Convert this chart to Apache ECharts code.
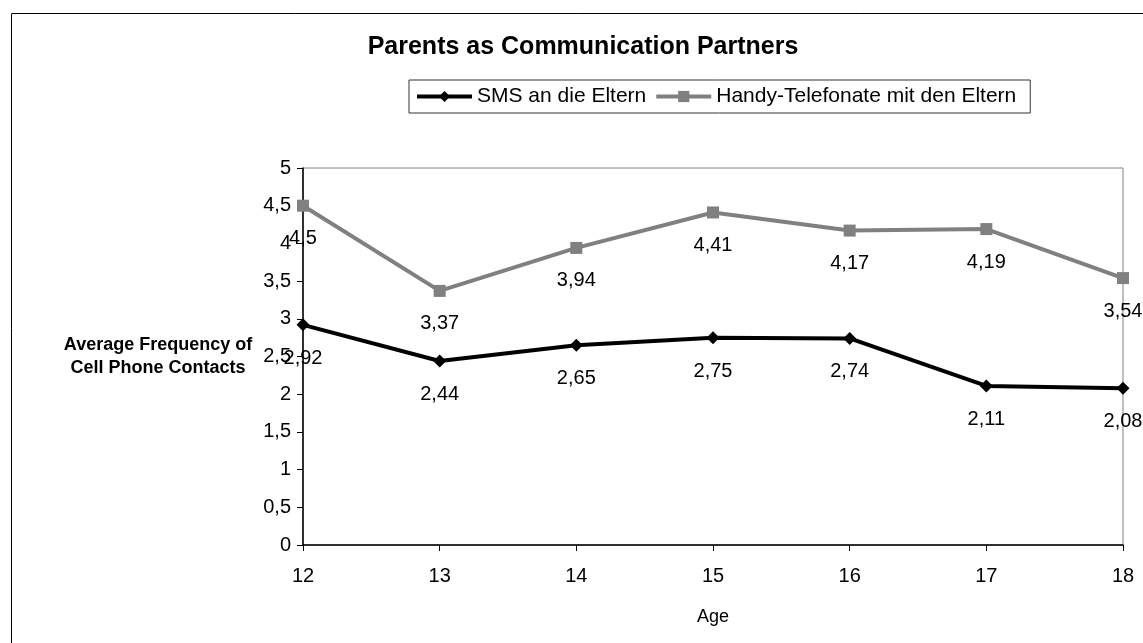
<!DOCTYPE html>
<html>
<head>
<meta charset="utf-8">
<script src="https://cdn.jsdelivr.net/npm/echarts@6/dist/echarts.min.js"></script>
<style>
html,body{margin:0;padding:0;background:#fff;}
#chart{width:1143px;height:643px;}
</style>
</head>
<body>
<div id="chart"></div>
<script>
var ages = ['12','13','14','15','16','17','18'];
var smsValues = [2.92, 2.44, 2.65, 2.75, 2.74, 2.11, 2.08];
var callValues = [4.5, 3.37, 3.94, 4.41, 4.17, 4.19, 3.54];
var seriesNames = ['SMS an die Eltern', 'Handy-Telefonate mit den Eltern'];
var chartTitle = 'Parents as Communication Partners';
var yAxisTitle = 'Average Frequency of\nCell Phone Contacts';
var xAxisTitle = 'Age';

var FONT = '"Liberation Sans", Arial, sans-serif';
function comma(v){ return String(v).replace('.', ','); }

var chart = echarts.init(document.getElementById('chart'), null, {renderer:'canvas'});
chart.setOption({
  backgroundColor:'#ffffff',
  animation:false,
  textStyle:{fontFamily:FONT, color:'#000'},
  graphic:[{
    type:'rect', silent:true, z:-1,
    shape:{x:11.5, y:13.5, width:1200, height:700},
    style:{fill:'none', stroke:'#000', lineWidth:1}
  }],
  title:[{
    text:chartTitle, left:583, top:35, textAlign:'center', padding:0,
    textStyle:{fontFamily:FONT, fontSize:25, fontWeight:'bold', color:'#000'}
  },{
    text:yAxisTitle, left:158, top:334, textAlign:'center', padding:0,
    textStyle:{fontFamily:FONT, fontSize:18, fontWeight:'bold', color:'#000', lineHeight:23}
  }],
  legend:{
    data:seriesNames, left:409, top:80, orient:'horizontal',
    padding:[6,14,6,6], itemGap:8, itemWidth:55, itemHeight:14,
    borderColor:'#333', borderWidth:1,
    lineStyle:{width:4},
    textStyle:{fontFamily:FONT, fontSize:21, color:'#000'}
  },
  grid:{left:303, right:20, top:168, bottom:98, show:true, borderColor:'#808080', borderWidth:1},
  xAxis:{
    type:'category', data:ages, boundaryGap:false,
    name:xAxisTitle, nameLocation:'middle', nameGap:63,
    nameTextStyle:{fontFamily:FONT, fontSize:18, color:'#000'},
    axisLine:{lineStyle:{color:'#000', width:1.5}},
    axisTick:{show:true, inside:false, length:6, lineStyle:{color:'#000'}},
    axisLabel:{fontFamily:FONT, fontSize:20, color:'#000', margin:21},
    splitLine:{show:false}
  },
  yAxis:{
    type:'value', min:0, max:5, interval:0.5,
    axisLine:{show:true, lineStyle:{color:'#000', width:1.5}},
    axisTick:{show:true, inside:false, length:6, lineStyle:{color:'#000'}},
    axisLabel:{fontFamily:FONT, fontSize:20, color:'#000', margin:12, formatter:function(v){return comma(v);}},
    splitLine:{show:false}
  },
  series:[{
    name:seriesNames[0], type:'line', data:smsValues,
    symbol:'diamond', symbolSize:13,
    lineStyle:{color:'#000', width:4},
    itemStyle:{color:'#000'},
    label:{show:true, position:'bottom', distance:17, fontFamily:FONT, fontSize:20, color:'#000',
      formatter:function(p){return comma(p.value);}},
    z:3
  },{
    name:seriesNames[1], type:'line', data:callValues,
    symbol:'rect', symbolSize:12,
    lineStyle:{color:'#808080', width:4},
    itemStyle:{color:'#808080'},
    label:{show:true, position:'bottom', distance:17, fontFamily:FONT, fontSize:20, color:'#000',
      formatter:function(p){return comma(p.value);}},
    z:2
  }]
});
</script>
</body>
</html>
